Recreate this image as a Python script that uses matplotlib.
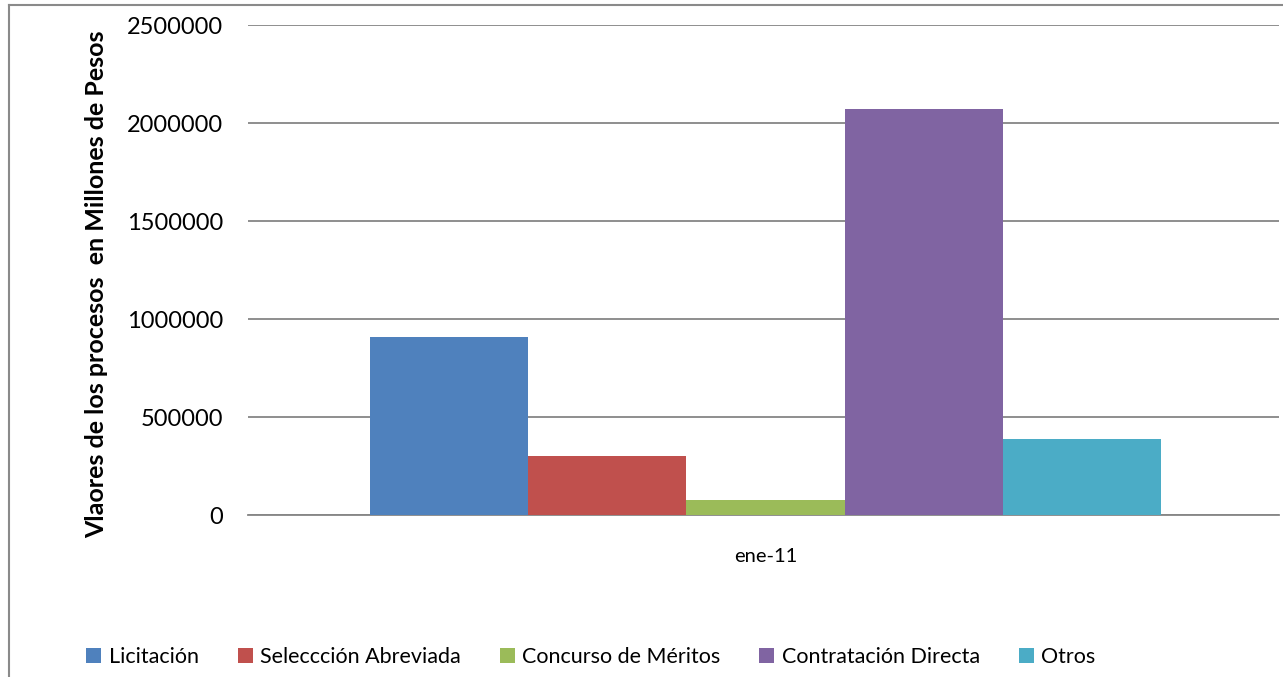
import matplotlib
matplotlib.use("Agg")
import matplotlib.pyplot as plt
from matplotlib.lines import Line2D

plt.rcParams['font.family'] = ['Lato', 'DejaVu Sans']

categories = ['ene-11']
series = ['Licitación', 'Seleccción Abreviada', 'Concurso de Méritos',
          'Contratación Directa', 'Otros']
values = [910000, 302000, 77000, 2072000, 390000]
colors = ['#4F81BD', '#C0504D', '#9BBB59', '#8064A2', '#4BACC6']
yticks = [0, 500000, 1000000, 1500000, 2000000, 2500000]

W, H = 1283, 677
fig = plt.figure(figsize=(W / 100, H / 100), dpi=100)
ax = fig.add_axes([248 / W, 1 - 515 / H, (1279 - 248) / W, (515 - 25) / H])

bar_w = 0.1534
center = 0.502
for i, (name, val, col) in enumerate(zip(series, values, colors)):
    ax.bar(center + (i - 2) * bar_w, val, width=bar_w, color=col, label=name,
           zorder=3)

ax.set_xlim(0, 1)
ax.set_ylim(0, 2500000)
ax.set_yticks(yticks)
ax.set_yticklabels([str(t) for t in yticks], fontsize=17)
ax.set_xticks([center])
ax.set_xticklabels(categories, fontsize=14.5)
ax.tick_params(axis='y', length=0, pad=18)
ax.tick_params(axis='x', length=0, pad=24)
ax.grid(axis='y', color='#868686', linewidth=1.3, zorder=0)
for s in ['top', 'right', 'left']:
    ax.spines[s].set_visible(False)
ax.spines['bottom'].set_color('#868686')
ax.spines['bottom'].set_linewidth(1.3)

fig.text(97 / W, 1 - 284 / H, 'Vlaores de los procesos  en Millones de Pesos',
         rotation=90, ha='center', va='center', fontsize=18,
         fontweight='bold')

ax.legend(loc='center', bbox_to_anchor=(591 / W, 1 - 657 / H),
          bbox_transform=fig.transFigure, ncol=5, frameon=False,
          fontsize=15.5, handlelength=0.7, handleheight=0.7,
          handletextpad=0.35, columnspacing=1.8)

# chart area border (left and top visible)
fig.add_artist(Line2D([8.5 / W, 8.5 / W], [0, 1 - 5 / H], color='#8a8a8a',
                      linewidth=1.5, transform=fig.transFigure))
fig.add_artist(Line2D([8.5 / W, 1], [1 - 5 / H, 1 - 5 / H], color='#8a8a8a',
                      linewidth=1.5, transform=fig.transFigure))

fig.savefig('out.png', dpi=100)
